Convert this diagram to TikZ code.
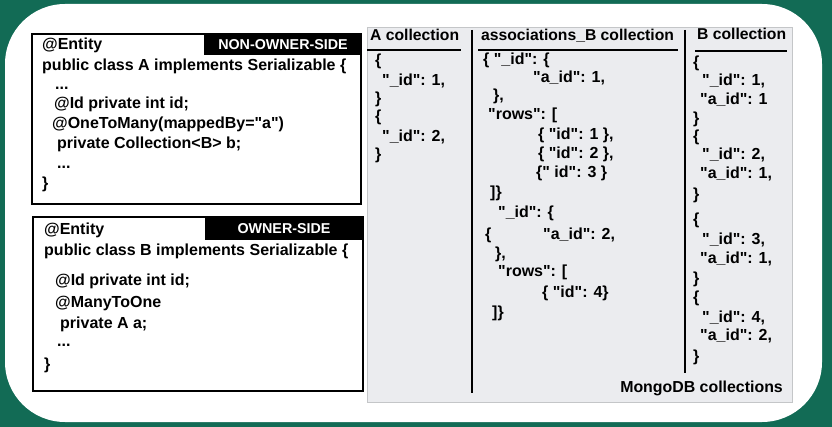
\documentclass[tikz,border=0pt]{standalone}
\usepackage{fontspec}
\setmainfont{Liberation Sans}
\newfontfamily\cf{Liberation Sans}
\definecolor{bggreen}{HTML}{126B55}
\definecolor{panel}{HTML}{EBECEF}
\definecolor{panelrim}{HTML}{C4C6C8}
\tikzset{
  code/.style={anchor=mid west, inner sep=0pt, font=\cf\fontsize{16}{17}\selectfont\bfseries},
  head/.style={anchor=mid west, inner sep=0pt, font=\cf\fontsize{15.7}{16}\selectfont\bfseries},
  tag/.style={inner sep=0pt, text=white, font=\cf\fontsize{14.3}{15}\selectfont\bfseries},
  codebox/.style={draw=black, line width=1.3pt, fill=white},
  rule/.style={line width=1.3pt},
  sep/.style={line width=1.6pt}
}
\begin{document}
\begin{tikzpicture}[x=1pt,y=-1pt]
\useasboundingbox (0,0) rectangle (832,427);
\fill[bggreen] (0,0) rectangle (832,427);
\fill[white, rounded corners=60pt] (5,4) rectangle (822,422);
% panel
\filldraw[fill=panel, draw=panelrim, line width=0.8pt] (367,27) rectangle (792,402);
% left box 1
\draw[codebox] (32,34) rectangle (361,204);
\fill[black] (204,34) rectangle (361,55);
\node[tag] (t1) at (283,45) {NON-OWNER-SIDE};
\node[code] (a1) at (42,47) {@Entity};
\node[code] (a2) at (42,68) {public class A implements Serializable \{};
\node[code] (a3) at (55,87) {...};
\node[code] (a4) at (54,106) {@Id private int id;};
\node[code] (a5) at (52,126) {@OneToMany(mappedBy="a")};
\node[code] (a6) at (57,146) {private Collection<B> b;};
\node[code] (a7) at (57,166) {...};
\node[code] (a8) at (42,186) {\}};
% left box 2
\draw[codebox] (33,217) rectangle (363,391);
\fill[black] (205,217) rectangle (363,240);
\node[tag] (t2) at (284,229) {OWNER-SIDE};
\node[code] (b1) at (44,232) {@Entity};
\node[code] (b2) at (44,253) {public class B implements Serializable \{};
\node[code] (b3) at (55,283) {@Id private int id;};
\node[code] (b4) at (55,305) {@ManyToOne};
\node[code] (b5) at (60,326) {private A a;};
\node[code] (b6) at (57,344) {...};
\node[code] (b7) at (44,367) {\}};
% headers
\node[head] (hA) at (370,38) {A collection};
\node[head] (hS) at (481,38) {associations\_B collection};
\node[head] (hB) at (697,37) {B collection};
\draw[rule] (367,50) -- (461,50);
\draw[rule] (478,50) -- (678,50);
\draw[rule] (695,51) -- (787,51);
\draw[sep] (472,30) -- (472,393);
\draw[sep] (685,30) -- (685,373);
% A collection
\node[code] (c1) at (375,63) {\{};
\node[code] (c2) at (382,83) {"\_id": 1,};
\node[code] (c3) at (375,101) {\}};
\node[code] (c4) at (375,119) {\{};
\node[code] (c5) at (382,139) {"\_id": 2,};
\node[code] (c6) at (375,157) {\}};
% associations_B
\node[code] (s1) at (483,62) {\{ "\_id": \{};
\node[code] (s2) at (533,80) {"a\_id": 1,};
\node[code] (s3) at (493,98) {\},};
\node[code] (s4) at (488,117) {"rows": [};
\node[code] (s5) at (538,137) {\{ "id": 1 \},};
\node[code] (s6) at (538,156) {\{ "id": 2 \},};
\node[code] (s7) at (536,175) {\{" id": 3 \}};
\node[code] (s8) at (490,195) {]\}};
\node[code] (s9) at (498,215) {"\_id": \{};
\node[code] (s10) at (485,237) {\{};
\node[code] (s11) at (543,237) {"a\_id": 2,};
\node[code] (s12) at (495,256) {\},};
\node[code] (s13) at (498,274) {"rows": [};
\node[code] (s14) at (542,295) {\{ "id": 4\}};
\node[code] (s15) at (492,315) {]\}};
% B collection
\node[code] (d1) at (693,65) {\{};
\node[code] (d2) at (702,83) {"\_id": 1,};
\node[code] (d3) at (700,102) {"a\_id": 1};
\node[code] (d4) at (693,121) {\}};
\node[code] (d5) at (693,139) {\{};
\node[code] (d6) at (702,157) {"\_id": 2,};
\node[code] (d7) at (700,176) {"a\_id": 1,};
\node[code] (d8) at (693,197) {\}};
\node[code] (d9) at (693,222) {\{};
\node[code] (d10) at (702,242) {"\_id": 3,};
\node[code] (d11) at (700,261) {"a\_id": 1,};
\node[code] (d12) at (693,281) {\}};
\node[code] (d13) at (693,300) {\{};
\node[code] (d14) at (702,320) {"\_id": 4,};
\node[code] (d15) at (700,338) {"a\_id": 2,};
\node[code] (d16) at (693,359) {\}};
\node[head, anchor=mid east, font=\cf\fontsize{15.9}{16}\selectfont\bfseries] (mc) at (783,390) {MongoDB collections};
\end{tikzpicture}
\end{document}
